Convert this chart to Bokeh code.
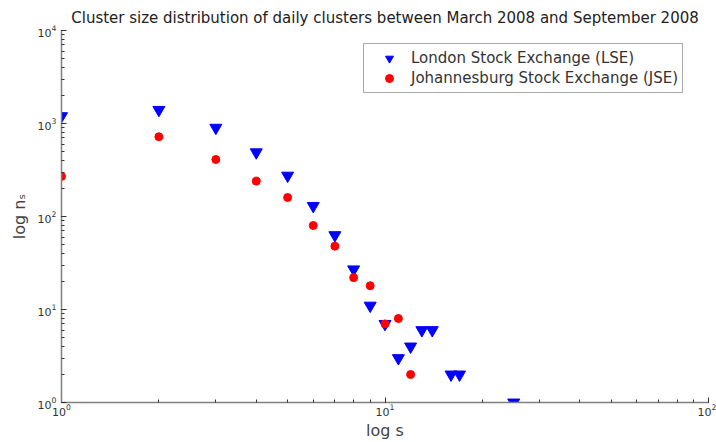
from bokeh.plotting import figure
from bokeh.embed import file_html
from bokeh.resources import INLINE
from bokeh.models import Range1d

# Data
lse_s = [1, 2, 3, 4, 5, 6, 7, 8, 9, 10, 11, 12, 13, 14, 16, 17, 25]
lse_n = [1200, 1400, 900, 490, 275, 130, 63, 27, 11, 7, 3, 4, 6, 6, 2, 2, 1]
jse_s = [1, 2, 3, 4, 5, 6, 7, 8, 9, 10, 11, 12]
jse_n = [270, 720, 410, 240, 160, 80, 48, 22, 18, 7, 8, 2]

title_text = "Cluster size distribution of daily clusters between March 2008 and September 2008"
lse_label = "London Stock Exchange (LSE)"
jse_label = "Johannesburg Stock Exchange (JSE)"

FONT = "DejaVu Sans"

p = figure(width=716, height=442, x_axis_type="log", y_axis_type="log",
           x_range=Range1d(1, 100), y_range=Range1d(1, 1e4),
           output_backend="svg", toolbar_location=None, title=title_text,
           min_border_left=61, min_border_right=8, min_border_top=30, min_border_bottom=40)

p.title.text_font = FONT
p.title.text_font_size = "15px"
p.title.text_font_style = "normal"
p.title.text_color = "#222222"
p.title.align = "center"
p.title.standoff = 7

p.grid.visible = False
p.outline_line_color = None

for ax in (p.xaxis[0], p.yaxis[0]):
    ax.axis_line_color = "#808080"
    ax.axis_line_width = 1.5
    ax.major_tick_line_color = "#333333"
    ax.minor_tick_line_color = "#333333"
    ax.major_tick_in = 5
    ax.major_tick_out = 0
    ax.minor_tick_in = 3
    ax.minor_tick_out = 0
    ax.major_label_text_font = FONT
    ax.major_label_text_font_size = "11px"
    ax.major_label_text_color = "#333333"
    ax.axis_label_text_font = FONT
    ax.axis_label_text_font_size = "16px"
    ax.axis_label_text_font_style = "normal"
    ax.axis_label_text_color = "#444444"

p.xaxis.axis_label = "log s"
p.xaxis.major_label_standoff = 1
p.xaxis.axis_label_standoff = 2
p.yaxis.axis_label = "log n\u209b"
p.yaxis.major_label_standoff = 5
p.yaxis.axis_label_standoff = 6

p.scatter(lse_s, lse_n, marker="inverted_triangle", size=12, fill_color="#0000ff",
          line_color="#0000ff", legend_label=lse_label)
p.scatter(jse_s, jse_n, marker="circle", size=8, fill_color="#ff0000",
          line_color="#ff0000", legend_label=jse_label)

lg = p.legend[0]
lg.location = (302, 309)
lg.padding = 4
lg.spacing = 0
lg.margin = 0
lg.glyph_width = 42
lg.glyph_height = 20
lg.label_height = 20
lg.label_standoff = 1
lg.label_text_font = FONT
lg.label_text_font_size = "15px"
lg.label_text_color = "#333333"
lg.border_line_color = "#555555"
lg.border_line_width = 1
lg.background_fill_alpha = 1

open("out.html", "w").write(file_html(p, INLINE))
